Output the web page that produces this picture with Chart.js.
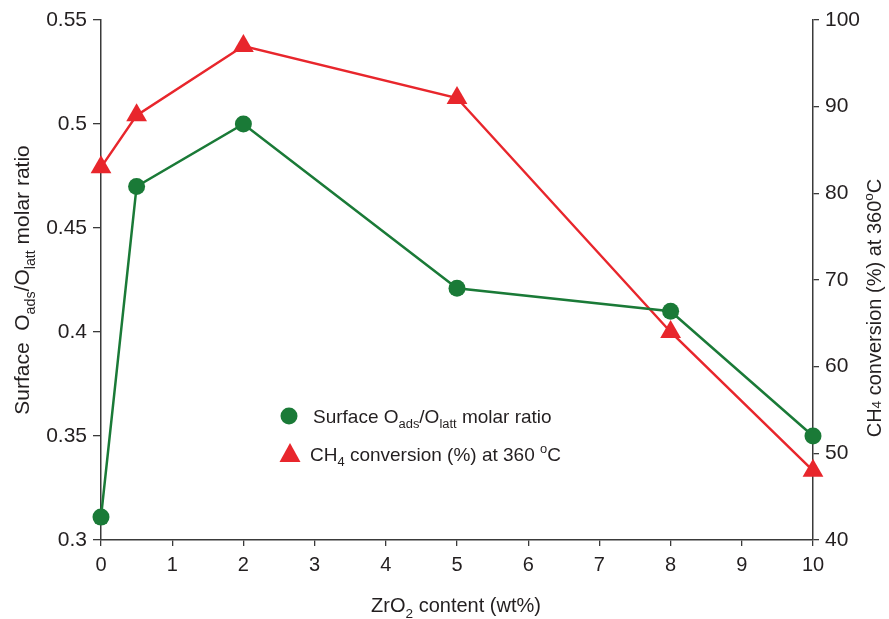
<!DOCTYPE html>
<html>
<head>
<meta charset="utf-8">
<script src="https://cdn.jsdelivr.net/npm/chart.js@4.4.1/dist/chart.umd.min.js"></script>
<style>
  html, body { margin: 0; padding: 0; background: #fff; }
  #wrap { width: 889px; height: 619px; position: relative; }
</style>
</head>
<body>
<div id="wrap"><canvas id="c"></canvas></div>
<script>
// ---- data ----
const zrO2Content = [0, 0.5, 2, 5, 8, 10];
const surfaceRatio = [0.311, 0.470, 0.500, 0.421, 0.410, 0.350];
const ch4Conversion = [83, 89, 97, 91, 64, 48];
const xTickValues = [0, 1, 2, 3, 4, 5, 6, 7, 8, 9, 10];
const leftTickValues = [0.3, 0.35, 0.4, 0.45, 0.5, 0.55];
const rightTickValues = [40, 50, 60, 70, 80, 90, 100];

const GREEN = '#1a7a37';
const RED = '#e8262c';
const AXIS = '#3a3a3a';
const TEXT = '#231f20';
const SANS = '"Liberation Sans", Arial, sans-serif';
const NARROW = '"Liberation Sans Narrow", "Liberation Sans", Arial, sans-serif';

function richWidth(ctx, parts, size, family) {
  let w = 0;
  for (const [t, m] of parts) {
    const s = m === 'n' ? size : size * 0.68;
    ctx.font = s + 'px ' + family;
    w += ctx.measureText(t).width;
  }
  return w;
}
function drawRich(ctx, parts, x, y, size, family, align) {
  let cx = x;
  if (align === 'center') cx = x - richWidth(ctx, parts, size, family) / 2;
  ctx.textBaseline = 'alphabetic';
  ctx.textAlign = 'left';
  for (const [t, m] of parts) {
    const s = m === 'n' ? size : size * 0.68;
    ctx.font = s + 'px ' + family;
    let dy = 0;
    if (m === 'sub') dy = size * 0.28;
    if (m === 'sup') dy = -size * 0.42;
    ctx.fillText(t, cx, y + dy);
    cx += ctx.measureText(t).width;
  }
}

const annotations = {
  id: 'annotations',
  afterDraw(chart) {
    const ctx = chart.ctx;
    ctx.save();
    ctx.fillStyle = TEXT;
    // left axis title
    ctx.save();
    ctx.translate(29, 280);
    ctx.rotate(-Math.PI / 2);
    drawRich(ctx, [['Surface  O', 'n'], ['ads', 'sub'], ['/O', 'n'], ['latt', 'sub'], [' molar ratio', 'n']], 0, 0, 21, SANS, 'center');
    ctx.restore();
    // right axis title
    ctx.save();
    ctx.translate(881, 308);
    ctx.rotate(-Math.PI / 2);
    drawRich(ctx, [['CH', 'n'], ['4', 'small'], [' conversion (%) at 360', 'n'], ['o', 'sup'], ['C', 'n']], 0, 0, 20, SANS, 'center');
    ctx.restore();
    // x axis title
    drawRich(ctx, [['ZrO', 'n'], ['2', 'sub'], [' content (wt%)', 'n']], 456, 612, 20, NARROW, 'center');

    // legend
    ctx.fillStyle = GREEN;
    ctx.beginPath();
    ctx.arc(289, 416, 8.5, 0, Math.PI * 2);
    ctx.fill();
    ctx.fillStyle = RED;
    ctx.beginPath();
    ctx.moveTo(290, 443);
    ctx.lineTo(300.5, 462);
    ctx.lineTo(279.5, 462);
    ctx.closePath();
    ctx.fill();
    ctx.fillStyle = TEXT;
    drawRich(ctx, [['Surface O', 'n'], ['ads', 'sub'], ['/O', 'n'], ['latt', 'sub'], [' molar ratio', 'n']], 313, 423, 19, SANS, 'left');
    drawRich(ctx, [['CH', 'n'], ['4', 'sub'], [' conversion (%) at 360 ', 'n'], ['o', 'sup'], ['C', 'n']], 310, 461, 19, SANS, 'left');
    ctx.restore();
  }
};

new Chart(document.getElementById('c'), {
  type: 'line',
  data: {
    datasets: [
      {
        label: 'Surface Oads/Olatt molar ratio',
        data: zrO2Content.map((x, i) => ({ x, y: surfaceRatio[i] })),
        yAxisID: 'y',
        borderColor: GREEN,
        backgroundColor: GREEN,
        borderWidth: 2.5,
        pointStyle: 'circle',
        pointRadius: 8.5,
        pointHoverRadius: 8.5,
        pointBorderWidth: 0,
        tension: 0,
        clip: false
      },
      {
        label: 'CH4 conversion (%) at 360 °C',
        data: zrO2Content.map((x, i) => ({ x, y: ch4Conversion[i] })),
        yAxisID: 'y1',
        borderColor: RED,
        backgroundColor: RED,
        borderWidth: 2.5,
        pointStyle: 'triangle',
        pointRadius: 12,
        pointHoverRadius: 12,
        pointBorderWidth: 0,
        tension: 0,
        clip: false
      }
    ]
  },
  options: {
    responsive: true,
    maintainAspectRatio: false,
    animation: false,
    events: [],
    layout: { padding: { top: 20, left: 0, right: 0, bottom: 0 } },
    plugins: { legend: { display: false }, tooltip: { enabled: false } },
    scales: {
      x: {
        type: 'linear',
        min: 0, max: 10,
        afterFit: s => { s.height = 79; },
        afterBuildTicks: s => { s.ticks = xTickValues.map(v => ({ value: v })); },
        grid: { display: true, drawOnChartArea: false, drawTicks: true, tickLength: 6, color: AXIS, lineWidth: 1.3 },
        border: { display: true, color: AXIS, width: 1.5 },
        ticks: { color: TEXT, padding: 7, maxRotation: 0, font: { family: NARROW, size: 20 } }
      },
      y: {
        type: 'linear',
        position: 'left',
        min: 0.3, max: 0.55,
        afterFit: s => { s.width = 101; },
        afterBuildTicks: s => { s.ticks = leftTickValues.map(v => ({ value: v })); },
        grid: { display: true, drawOnChartArea: false, drawTicks: true, tickLength: 8, color: AXIS, lineWidth: 1.3 },
        border: { display: true, color: AXIS, width: 1.5 },
        ticks: { color: TEXT, padding: 6, font: { family: SANS, size: 21 }, callback: v => String(+v.toFixed(2)) }
      },
      y1: {
        type: 'linear',
        position: 'right',
        min: 40, max: 100,
        afterFit: s => { s.width = 76; },
        afterBuildTicks: s => { s.ticks = rightTickValues.map(v => ({ value: v })); },
        grid: { display: true, drawOnChartArea: false, drawTicks: true, tickLength: 6, color: AXIS, lineWidth: 1.3 },
        border: { display: true, color: AXIS, width: 1.5 },
        ticks: { color: TEXT, padding: 6, font: { family: SANS, size: 21 } }
      }
    }
  },
  plugins: [annotations]
});
</script>
</body>
</html>
